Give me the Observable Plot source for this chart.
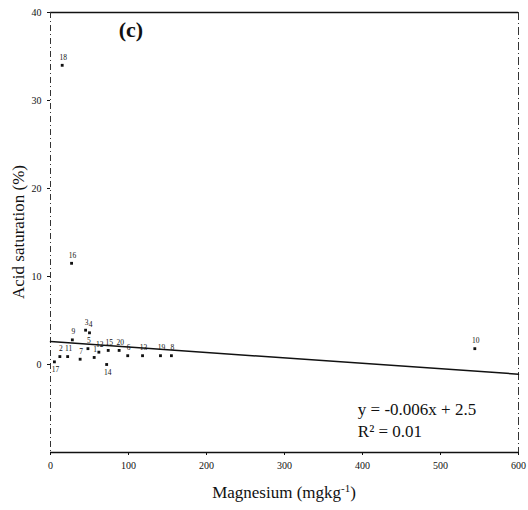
<!DOCTYPE html>
<html>
<head>
<meta charset="utf-8">
<script src="https://cdn.jsdelivr.net/npm/d3@7"></script>
<script src="https://cdn.jsdelivr.net/npm/@observablehq/plot@0.6"></script>
<style>
  body { margin: 0; background: #fff; }
  #chart svg { display: block; }
</style>
</head>
<body>
<div id="chart"></div>
<script>
// Sample identifiers, magnesium (mg kg-1) and acid saturation (%)
const sampleIds = ["18","16","10","9","3","4","5","2","11","7","1","12","15","20","6","13","19","8","14","17"];
const magnesium = [15, 27, 544, 28, 45, 50, 48, 12, 22, 38, 56, 62, 74, 88, 99, 118, 141, 155, 72, 5];
const acidSat   = [34, 11.5, 1.8, 2.8, 3.9, 3.6, 1.8, 0.9, 0.9, 0.6, 0.8, 1.4, 1.6, 1.6, 1.0, 1.0, 1.0, 1.0, 0.0, 0.3];
const xTicks = [0, 100, 200, 300, 400, 500, 600];
const yTicks = [0, 10, 20, 30, 40];
// Fitted line y = -0.006x + 2.5 as drawn (end points)
const fitX = [0, 600];
const fitY = [2.6, -1.1];

const points = sampleIds.map((id, i) => ({id, mg: magnesium[i], acid: acidSat[i]}));
const fit = fitX.map((x, i) => ({x, y: fitY[i]}));
const below = new Set(["14", "17"]);

const serif = "'Liberation Serif', 'DejaVu Serif', serif";

const chart = Plot.plot({
  width: 528,
  height: 510,
  marginLeft: 50,
  marginRight: 10,
  marginTop: 12,
  marginBottom: 58,
  style: {fontFamily: serif, fontSize: "10px", color: "#111", background: "#fff"},
  x: {domain: [0, 600], ticks: xTicks, tickSize: 3, tickFormat: d => d, label: null},
  y: {domain: [-10, 40], ticks: yTicks, tickSize: 3, tickFormat: d => d, label: null},
  marks: [
    Plot.ruleY([40], {stroke: "#111", strokeWidth: 1.6}),
    Plot.ruleY([-10], {stroke: "#111", strokeWidth: 1.6}),
    Plot.ruleX([0], {stroke: "#333", strokeWidth: 1, strokeDasharray: "6,3,1,3"}),
    Plot.ruleX([600], {stroke: "#333", strokeWidth: 1, strokeDasharray: "8,3,1,3"}),
    Plot.line(fit, {x: "x", y: "y", stroke: "#111", strokeWidth: 1.5}),
    Plot.dot(points, {x: "mg", y: "acid", symbol: "square", r: 1.6, fill: "#111", stroke: "none"}),
    Plot.text(points.filter(d => !below.has(d.id)), {x: "mg", y: "acid", text: "id", dy: -8, dx: 1, fontSize: 7.5, fill: "#111"}),
    Plot.text(points.filter(d => below.has(d.id)), {x: "mg", y: "acid", text: "id", dy: 8, dx: 1, fontSize: 7.5, fill: "#111"}),
    Plot.text(["(c)"], {x: 103, y: 38, text: d => d, fontSize: 22, fontWeight: "bold", fill: "#111"}),
    Plot.text(["y = -0.006x + 2.5"], {x: 394, y: -5.1, text: d => d, textAnchor: "start", fontSize: 17, fill: "#111"}),
    Plot.text(["R² = 0.01"], {x: 394, y: -7.6, text: d => d, textAnchor: "start", fontSize: 17, fill: "#111"})
  ]
});

// axis titles as real text appended into the SVG
const svg = d3.select(chart);
svg.append("text")
  .attr("x", 284).attr("y", 498)
  .attr("text-anchor", "middle")
  .attr("font-family", serif).attr("font-size", 17).attr("fill", "#111")
  .html("Magnesium (mgkg<tspan baseline-shift='super' font-size='11'>-1</tspan>)");
svg.append("text")
  .attr("transform", "translate(24,232) rotate(-90)")
  .attr("text-anchor", "middle")
  .attr("font-family", serif).attr("font-size", 17).attr("fill", "#111")
  .text("Acid saturation (%)");

document.getElementById("chart").appendChild(chart);
</script>
</body>
</html>
